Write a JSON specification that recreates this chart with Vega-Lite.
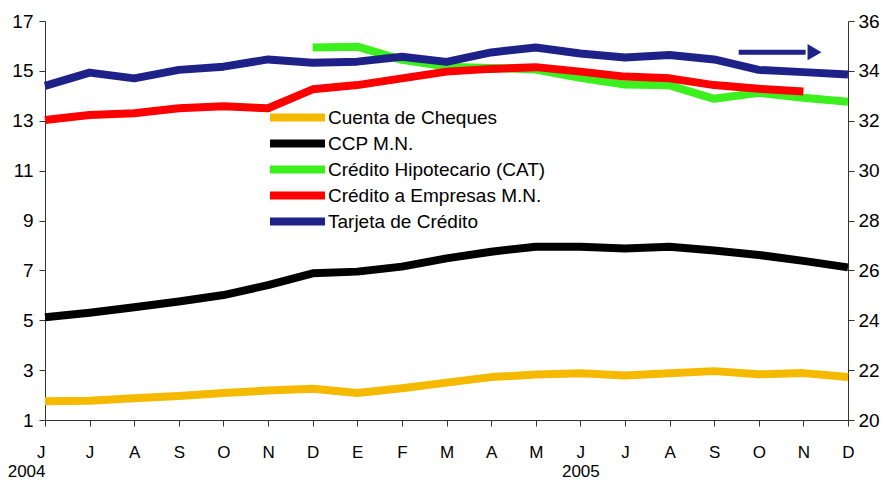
{
  "$schema": "https://vega.github.io/schema/vega-lite/v6.json",
  "autosize": "none",
  "width": 803,
  "height": 399,
  "padding": {"left": 45, "top": 21, "right": 37, "bottom": 62},
  "background": "white",
  "config": {
    "view": {"stroke": null},
    "font": "Liberation Sans",
    "axis": {"labelFont": "Liberation Sans", "labelFontSize": 19, "labelColor": "#000", "domainColor": "#333", "tickColor": "#333", "grid": false, "title": null, "tickSize": 6}
  },
  "datasets": {
    "series": [
      {"i": 0, "s": "CCP M.N.", "v": 5.12}, {"i": 1, "s": "CCP M.N.", "v": 5.3}, {"i": 2, "s": "CCP M.N.", "v": 5.52}, {"i": 3, "s": "CCP M.N.", "v": 5.75}, {"i": 4, "s": "CCP M.N.", "v": 6.01}, {"i": 5, "s": "CCP M.N.", "v": 6.41}, {"i": 6, "s": "CCP M.N.", "v": 6.88}, {"i": 7, "s": "CCP M.N.", "v": 6.95}, {"i": 8, "s": "CCP M.N.", "v": 7.15}, {"i": 9, "s": "CCP M.N.", "v": 7.48}, {"i": 10, "s": "CCP M.N.", "v": 7.75}, {"i": 11, "s": "CCP M.N.", "v": 7.95}, {"i": 12, "s": "CCP M.N.", "v": 7.95}, {"i": 13, "s": "CCP M.N.", "v": 7.88}, {"i": 14, "s": "CCP M.N.", "v": 7.95}, {"i": 15, "s": "CCP M.N.", "v": 7.8}, {"i": 16, "s": "CCP M.N.", "v": 7.62}, {"i": 17, "s": "CCP M.N.", "v": 7.38}, {"i": 18, "s": "CCP M.N.", "v": 7.12},
      {"i": 0, "s": "Cuenta de Cheques", "v": 1.75}, {"i": 1, "s": "Cuenta de Cheques", "v": 1.77}, {"i": 2, "s": "Cuenta de Cheques", "v": 1.87}, {"i": 3, "s": "Cuenta de Cheques", "v": 1.96}, {"i": 4, "s": "Cuenta de Cheques", "v": 2.08}, {"i": 5, "s": "Cuenta de Cheques", "v": 2.18}, {"i": 6, "s": "Cuenta de Cheques", "v": 2.25}, {"i": 7, "s": "Cuenta de Cheques", "v": 2.08}, {"i": 8, "s": "Cuenta de Cheques", "v": 2.27}, {"i": 9, "s": "Cuenta de Cheques", "v": 2.5}, {"i": 10, "s": "Cuenta de Cheques", "v": 2.72}, {"i": 11, "s": "Cuenta de Cheques", "v": 2.82}, {"i": 12, "s": "Cuenta de Cheques", "v": 2.87}, {"i": 13, "s": "Cuenta de Cheques", "v": 2.78}, {"i": 14, "s": "Cuenta de Cheques", "v": 2.87}, {"i": 15, "s": "Cuenta de Cheques", "v": 2.96}, {"i": 16, "s": "Cuenta de Cheques", "v": 2.83}, {"i": 17, "s": "Cuenta de Cheques", "v": 2.88}, {"i": 18, "s": "Cuenta de Cheques", "v": 2.72},
      {"i": 6, "s": "Crédito Hipotecario (CAT)", "v": 15.94}, {"i": 7, "s": "Crédito Hipotecario (CAT)", "v": 15.97}, {"i": 8, "s": "Crédito Hipotecario (CAT)", "v": 15.44}, {"i": 9, "s": "Crédito Hipotecario (CAT)", "v": 15.17}, {"i": 10, "s": "Crédito Hipotecario (CAT)", "v": 15.12}, {"i": 11, "s": "Crédito Hipotecario (CAT)", "v": 15.05}, {"i": 12, "s": "Crédito Hipotecario (CAT)", "v": 14.72}, {"i": 13, "s": "Crédito Hipotecario (CAT)", "v": 14.45}, {"i": 14, "s": "Crédito Hipotecario (CAT)", "v": 14.42}, {"i": 15, "s": "Crédito Hipotecario (CAT)", "v": 13.88}, {"i": 16, "s": "Crédito Hipotecario (CAT)", "v": 14.12}, {"i": 17, "s": "Crédito Hipotecario (CAT)", "v": 13.92}, {"i": 18, "s": "Crédito Hipotecario (CAT)", "v": 13.76},
      {"i": 0, "s": "Crédito a Empresas M.N.", "v": 13.03}, {"i": 1, "s": "Crédito a Empresas M.N.", "v": 13.23}, {"i": 2, "s": "Crédito a Empresas M.N.", "v": 13.3}, {"i": 3, "s": "Crédito a Empresas M.N.", "v": 13.5}, {"i": 4, "s": "Crédito a Empresas M.N.", "v": 13.58}, {"i": 5, "s": "Crédito a Empresas M.N.", "v": 13.5}, {"i": 6, "s": "Crédito a Empresas M.N.", "v": 14.26}, {"i": 7, "s": "Crédito a Empresas M.N.", "v": 14.43}, {"i": 8, "s": "Crédito a Empresas M.N.", "v": 14.7}, {"i": 9, "s": "Crédito a Empresas M.N.", "v": 14.97}, {"i": 10, "s": "Crédito a Empresas M.N.", "v": 15.08}, {"i": 11, "s": "Crédito a Empresas M.N.", "v": 15.15}, {"i": 12, "s": "Crédito a Empresas M.N.", "v": 14.97}, {"i": 13, "s": "Crédito a Empresas M.N.", "v": 14.77}, {"i": 14, "s": "Crédito a Empresas M.N.", "v": 14.7}, {"i": 15, "s": "Crédito a Empresas M.N.", "v": 14.43}, {"i": 16, "s": "Crédito a Empresas M.N.", "v": 14.28}, {"i": 17, "s": "Crédito a Empresas M.N.", "v": 14.17}
    ],
    "tarjeta": [
      {"i": 0, "s": "Tarjeta de Crédito", "v": 33.4}, {"i": 1, "s": "Tarjeta de Crédito", "v": 33.93}, {"i": 2, "s": "Tarjeta de Crédito", "v": 33.7}, {"i": 3, "s": "Tarjeta de Crédito", "v": 34.04}, {"i": 4, "s": "Tarjeta de Crédito", "v": 34.17}, {"i": 5, "s": "Tarjeta de Crédito", "v": 34.46}, {"i": 6, "s": "Tarjeta de Crédito", "v": 34.33}, {"i": 7, "s": "Tarjeta de Crédito", "v": 34.37}, {"i": 8, "s": "Tarjeta de Crédito", "v": 34.57}, {"i": 9, "s": "Tarjeta de Crédito", "v": 34.36}, {"i": 10, "s": "Tarjeta de Crédito", "v": 34.74}, {"i": 11, "s": "Tarjeta de Crédito", "v": 34.94}, {"i": 12, "s": "Tarjeta de Crédito", "v": 34.7}, {"i": 13, "s": "Tarjeta de Crédito", "v": 34.54}, {"i": 14, "s": "Tarjeta de Crédito", "v": 34.64}, {"i": 15, "s": "Tarjeta de Crédito", "v": 34.46}, {"i": 16, "s": "Tarjeta de Crédito", "v": 34.04}, {"i": 17, "s": "Tarjeta de Crédito", "v": 33.95}, {"i": 18, "s": "Tarjeta de Crédito", "v": 33.85}
    ],
    "arrow": [{"i": 15.55, "i2": 17.05, "v": 34.75}],
    "arrowhead": [{"i": 17.25, "v": 34.75}]
  },
  "encoding": {
    "x": {
      "field": "i", "type": "quantitative",
      "scale": {"domain": [0, 18], "nice": false, "zero": false},
      "axis": {
        "values": [0,1,2,3,4,5,6,7,8,9,10,11,12,13,14,15,16,17,18],
        "labelExpr": "datum.value == 0 ? ['J', '2004'] : datum.value == 12 ? ['J', '2005'] : split('J,J,A,S,O,N,D,E,F,M,A,M,J,J,A,S,O,N,D', ',')[datum.value]",
        "labelFlush": false,
        "labelAlign": {"condition": {"test": "datum.value == 0", "value": "right"}, "value": "center"},
        "labelPadding": 18,
        "labelLineHeight": 19,
        "labelFontSize": 17
      }
    }
  },
  "layer": [
    {
      "data": {"name": "series"},
      "mark": {"type": "line", "strokeWidth": 8, "strokeJoin": "round"},
      "encoding": {
        "y": {"field": "v", "type": "quantitative", "scale": {"domain": [1, 17], "nice": false, "zero": false},
              "axis": {"orient": "left", "values": [1,3,5,7,9,11,13,15,17], "labelPadding": 6}},
        "color": {"field": "s", "type": "nominal",
          "scale": {"domain": ["Cuenta de Cheques", "CCP M.N.", "Crédito Hipotecario (CAT)", "Crédito a Empresas M.N.", "Tarjeta de Crédito"],
                    "range": ["#F5BA00", "#000000", "#3CF01E", "#FF0000", "#1E2288"]},
          "legend": {"orient": "none", "legendX": 243, "legendY": 87, "title": null, "symbolType": "M-5,0H5", "symbolSize": 121, "symbolStrokeWidth": 8,
                     "labelFontSize": 19, "labelFont": "Liberation Sans", "labelColor": "#000", "labelOffset": 21, "rowPadding": -7.5, "labelLimit": 400, "padding": 0}
        }
      }
    },
    {
      "layer": [
        {
          "data": {"name": "tarjeta"},
          "mark": {"type": "line", "strokeWidth": 8, "strokeJoin": "round"},
          "encoding": {
            "y": {"field": "v", "type": "quantitative", "scale": {"domain": [20, 36], "nice": false, "zero": false},
                  "axis": {"orient": "right", "values": [20,22,24,26,28,30,32,34,36], "labelPadding": 4}},
            "color": {"field": "s", "type": "nominal"}
          }
        },
        {
          "data": {"name": "arrow"},
          "mark": {"type": "rule", "strokeWidth": 5, "color": "#1E2288"},
          "encoding": {"x2": {"field": "i2"}, "y": {"field": "v", "type": "quantitative"}}
        },
        {
          "data": {"name": "arrowhead"},
          "mark": {"type": "point", "shape": "triangle-right", "filled": true, "size": 260, "color": "#1E2288", "opacity": 1},
          "encoding": {"y": {"field": "v", "type": "quantitative"}}
        }
      ]
    }
  ],
  "resolve": {"scale": {"y": "independent"}}
}
